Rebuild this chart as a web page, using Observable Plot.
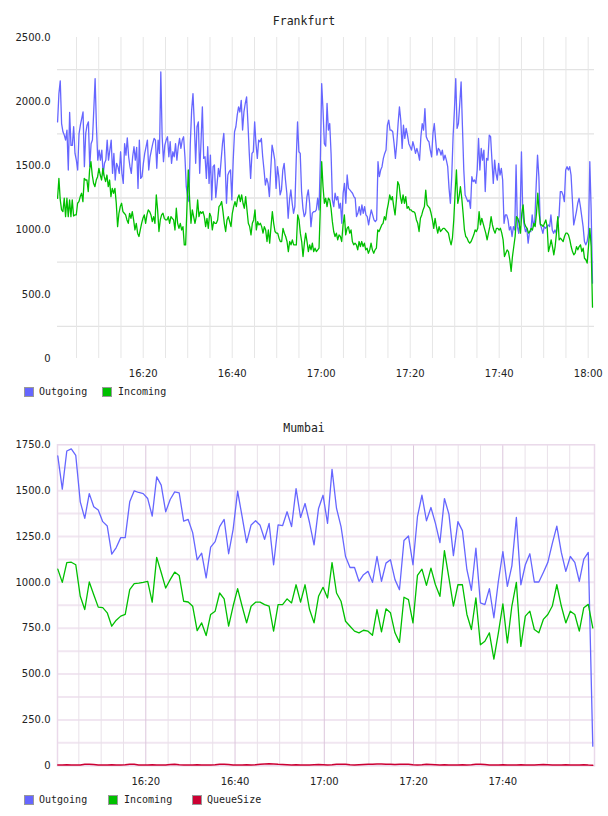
<!DOCTYPE html>
<html>
<head>
<meta charset="utf-8">
<script src="https://cdn.jsdelivr.net/npm/d3@7"></script>
<script src="https://cdn.jsdelivr.net/npm/@observablehq/plot@0.6"></script>
<style>
  body { margin: 0; background: #fff; }
  #page { position: relative; width: 608px; height: 816px; overflow: hidden; background: #fff; }
  .title { position: absolute; left: 0; width: 608px; text-align: center; font: 11.5px "DejaVu Sans Mono", monospace; color: #222; line-height: 14px; }
  .legend { position: absolute; left: 0; width: 608px; height: 12px; font: 10px "DejaVu Sans Mono", monospace; color: #222; }
  .sw { position: absolute; top: 0; width: 8px; height: 8px; border: 1px solid #999; }
  .lbl { position: absolute; top: -1px; line-height: 12px; white-space: nowrap; }
  .panel { position: absolute; left: 0; }
</style>
</head>
<body>
<div id="page"></div>
<script>
// ---- Frankfurt: traffic sampled about every 18 s ----
const frankfurtStart = "16:00:45";
const frankfurtEnd = "18:00:58";
const frankfurtDomain = ["16:00:44", "18:01:25"];

const frankfurtOutgoing = [
  1843, 2063, 2162, 1830, 1766, 1740, 1701, 1779, 1468, 1916,
  1660, 1660, 1805, 1597, 1545, 1468, 1750, 1817, 1869, 1920,
  1494, 1753, 1817, 1843, 1494, 1673, 1701, 1934, 2180, 1805,
  1545, 1623, 1545, 1623, 1429, 1520, 1545, 1701, 1545, 1623,
  1701, 1442, 1597, 1390, 1520, 1494, 1442, 1610, 1442, 1364,
  1673, 1584, 1719, 1571, 1494, 1442, 1571, 1649, 1545, 1644,
  1325, 1701, 1403, 1416, 1520, 1597, 1649, 1701, 1468, 1571,
  1623, 1673, 1714, 1701, 1481, 1701, 1597, 2232, 1727, 1533,
  1662, 1701, 1727, 1571, 1688, 1520, 1610, 1571, 1673, 1545,
  1649, 1714, 1636, 1701, 1727, 1571, 1338, 1261, 1222, 1673,
  1934, 2063, 1830, 1520,
  1805, 1843, 1442, 1688, 1960, 1558, 1571, 1403, 1649, 1364,
  1584, 1235, 1494, 1507, 1255, 1364, 1481, 1416, 1545, 1673,
  1753, 1520, 1209, 1429, 1455, 1468, 1235, 1545, 1766, 1805,
  1895, 1960, 1920, 2011, 1779, 1920, 1986, 2037, 1830, 1597,
  1403, 1597, 1610, 1843, 1673, 1558, 1701, 1688, 1714, 1571,
  1468, 1351, 1403, 1364, 1261, 1468, 1662, 1610, 1545, 1325,
  1494, 1416, 1274, 1313, 1468, 1520, 1390, 1287, 1092, 1235,
  1313, 1209, 1131, 1183, 1545, 1843, 1610, 1597, 1300, 1170,
  1105, 1131, 1261, 1313, 1209, 1027, 1131, 1144, 1144, 1157,
  1248, 1157, 1545, 2141, 1934, 1673,
  1654, 1986, 1779, 1830, 1597, 1235, 1183, 1287, 1235, 1261,
  1170, 1209, 1053, 1287, 1364, 1209, 1429, 1325, 1313, 1300,
  1287, 1261, 1248, 1105, 1131, 1183, 1118, 1196, 1131, 1183,
  1118, 1105, 1040, 1105, 1157, 1118, 1079, 1066, 1079, 1533,
  1416, 1468, 1494, 1558, 1597, 1623, 1817, 1856, 1779, 1779,
  1766, 1673, 1558, 1673, 1830, 1960, 1856, 1636, 1817, 1714,
  1792, 1740, 1673, 1649, 1623, 1688, 1649, 1597, 1636, 1597,
  1545, 1727, 1830, 1779, 1946, 1727, 1701, 1688, 1623, 1571,
  1753, 1830, 1701, 1584, 1636, 1623, 1584, 1623, 1545, 1584,
  1545, 1494, 1325, 1209, 1416, 1727, 1934, 2180,
  1792, 1830, 1986, 2154, 1805, 1468, 1274, 1248, 1222, 1235,
  1170, 1416, 1377, 1390, 1364, 1468, 1714, 1468, 1636, 1545,
  1623, 1300, 1558, 1545, 1740, 1727, 1545, 1364, 1545, 1442,
  1390, 1520, 1429, 1481, 1390, 1053, 1118, 1118, 1079, 1001,
  1027, 950, 1027, 1001, 1507, 1027, 975, 1105, 1610, 1131,
  1040, 988, 1014, 898, 988, 988, 1118, 1027, 1079, 1351,
  1584, 1416, 1053, 1014, 975, 1027, 1014, 1027, 1040, 1027,
  1118, 1001, 975, 1001, 975, 1079, 1105, 1300, 1300, 1274,
  1222, 1468, 1494, 1468, 1494, 1429, 1235, 1040, 1092, 1144,
  1209, 1248, 1183, 1105, 1027, 911, 885, 911, 975, 1533,
  1157, 587
];

const frankfurtIncoming = [
  1248, 1403, 1235, 1157, 1144, 1248, 1105, 1248, 1105, 1235,
  1105, 1235, 1110, 1118, 1118, 1209, 1222, 1261, 1287, 1222,
  1403, 1390, 1390, 1300, 1468, 1533, 1429, 1364, 1338, 1390,
  1416, 1481, 1429, 1390, 1481, 1416, 1377, 1429, 1338, 1390,
  1261, 1325, 1287, 1325, 1209, 1027, 1131, 1183, 1209, 1144,
  1131, 1118, 1079, 1053, 1131, 1092, 1144, 1079, 1001, 1053,
  976, 950, 1001, 1053, 1092, 1118, 1053, 1118, 1157, 1144,
  1118, 1066, 1105, 1053, 1274, 1157, 989, 1079, 1118, 1131,
  1092, 1079, 1079, 1105, 1053, 1105, 1092, 1079, 1001, 1170,
  1053, 1014, 1053, 1001, 1027, 885, 885, 1183, 1468, 1235,
  1053,
  1157, 1105, 1053, 1105, 1235, 1105, 1144, 1131, 1144, 1105,
  1027, 1092, 1014, 1131, 1105, 1001, 1066, 1053, 1053, 1079,
  1183, 1196, 1222, 1144, 1053, 989, 1079, 1105, 1066, 1027,
  1131, 1183, 1222, 1183, 1248, 1274, 1222, 1274, 1209, 1170,
  1261, 1157, 1053, 1027, 963, 1053, 1079, 1157, 1001, 1066,
  1040, 1053, 1027, 976, 1027, 1001, 911, 1001, 898, 1027,
  1144, 1053, 989, 976, 976, 937, 911, 911, 1014, 976,
  950, 911, 833, 911, 885, 924, 885, 885, 885, 1118,
  1079, 976, 911, 794, 898, 976, 911, 833, 885, 846,
  898, 833, 859, 833, 846, 859, 1183, 1533, 1338, 1209,
  1248, 1183, 1248, 1235, 1170, 1066, 989, 950, 976, 924,
  963, 950, 911, 1040, 1118, 963, 1014, 1027, 976, 1001,
  911, 885, 898, 885, 846, 911, 872, 911, 872, 898,
  846, 859, 820, 846, 898, 846, 820, 846, 859, 1001,
  989, 1014, 1040, 1053, 1105, 1079, 1157, 1209, 1274, 1235,
  1261, 1183, 1118, 1235, 1377, 1351, 1261, 1209, 1274, 1209,
  1261, 1170, 1183, 1157, 1157, 1144, 1144, 1131, 1079, 1053,
  989, 1092, 1118, 1157, 1183, 1312, 1196, 1183, 1170, 1131,
  1079, 1014, 1092, 1027, 976, 1027, 989, 1001, 1014, 1014,
  1001, 989, 976, 924, 885, 937, 1079, 1287, 1468,
  1209, 1261, 1338, 1248, 1131, 1001, 950, 937, 911, 898,
  911, 937, 963, 1001, 989, 1014, 1144, 1040, 1092, 1053,
  1014, 976, 924, 976, 1027, 1105, 1040, 1001, 976, 1014,
  1014, 1001, 1014, 976, 924, 794, 820, 846, 833, 769,
  678, 794, 872, 950, 1105, 1092, 1053, 976, 1131, 1196,
  1053, 1027, 1014, 976, 989, 1014, 1001, 1053, 1027, 1131,
  1287, 1131, 1040, 1040, 1027, 1053, 1079, 1027, 833, 872,
  924, 872, 807, 872, 976, 1105, 924, 937, 924, 911,
  950, 976, 976, 963, 924, 872, 833, 807, 820, 872,
  846, 872, 885, 833, 859, 781, 769, 743, 872, 1014,
  872, 400
];

const frankfurtYTicks = [0, 500, 1000, 1500, 2000, 2500];
const frankfurtYGrid = [250, 750, 1250, 1750, 2250];
const frankfurtXTicks = ["16:20", "16:40", "17:00", "17:20", "17:40", "18:00"];

// ---- Mumbai: one sample per minute ----
const mumbaiStart = "16:00:17";
const mumbaiEnd = "18:00:10";
const mumbaiDomain = ["16:00:13", "18:00:33"];

const mumbaiOutgoing = [
  1689, 1508, 1716, 1728, 1692, 1439, 1349, 1484, 1412, 1394,
  1331, 1307, 1154, 1190, 1244, 1244, 1439, 1499, 1490, 1484,
  1457, 1361, 1575, 1530, 1385, 1452, 1493, 1488, 1334, 1343,
  1271, 1123, 1159, 1024, 1192, 1222, 1304, 1343, 1156, 1289,
  1497, 1358, 1217, 1313, 1336, 1311, 1235, 1322, 1096, 1313,
  1309, 1385, 1304, 1511, 1354, 1430, 1325, 1204, 1403, 1475,
  1322, 1616, 1403, 1304, 1141, 1081, 1081, 1006, 1042, 1060,
  1000, 1141, 1006, 1105, 1123, 1015, 960, 1228, 1253, 1096,
  1358, 1475, 1336, 1408, 1322, 1217, 1457, 1372, 1146, 1331,
  1282, 1069, 957, 1186, 888, 879, 966, 807, 1006, 1168,
  978, 1090, 1354, 987, 1096, 1156, 1002, 1002, 1054, 1109,
  1213, 1307, 1163, 1060, 1141, 1109, 1006, 1127, 1163, 107
];

const mumbaiIncoming = [
  1072, 1000, 1108, 1110, 1096, 924, 852, 1002, 933, 865,
  862, 834, 761, 794, 816, 825, 960, 993, 996, 1000,
  1005, 892, 1136, 1054, 969, 1015, 1056, 1038, 897, 893,
  870, 737, 779, 710, 825, 843, 942, 910, 761, 871,
  966, 870, 779, 870, 892, 892, 879, 870, 734, 879,
  879, 910, 888, 987, 892, 987, 852, 779, 924, 973,
  915, 1108, 942, 897, 788, 761, 734, 725, 739, 734,
  712, 852, 730, 856, 834, 725, 673, 919, 906, 779,
  1038, 1072, 984, 1078, 987, 924, 1173, 1024, 870, 987,
  987, 825, 743, 915, 660, 679, 725, 582, 725, 883,
  670, 871, 1000, 651, 816, 843, 743, 725, 798, 825,
  871, 987, 871, 779, 843, 825, 734, 862, 880, 752
];

const mumbaiQueueSize = [
  5, 4, 6, 5, 4, 5, 8, 9, 7, 5,
  4, 5, 6, 5, 4, 6, 9, 8, 5, 4,
  5, 6, 5, 4, 5, 7, 9, 6, 5, 4,
  5, 6, 5, 4, 5, 6, 8, 9, 7, 5,
  4, 5, 6, 5, 6, 8, 10, 11, 10, 8,
  7, 6, 5, 6, 5, 4, 5, 6, 7, 6,
  5, 6, 8, 9, 8, 6, 5, 6, 7, 8,
  9, 10, 10, 9, 8, 7, 8, 9, 8, 6,
  5, 6, 8, 7, 6, 5, 6, 5, 4, 5,
  6, 5, 6, 8, 9, 7, 5, 4, 5, 6,
  5, 4, 5, 6, 5, 4, 5, 6, 7, 6,
  5, 4, 5, 6, 5, 4, 5, 6, 4, 3
];

const mumbaiYTicks = [0, 250, 500, 750, 1000, 1250, 1500, 1750];
const mumbaiYGrid = [125, 250, 375, 500, 625, 750, 875, 1000, 1125, 1250, 1375, 1500, 1625];
const mumbaiXTicks = ["16:20", "16:40", "17:00", "17:20", "17:40"];

const seriesColors = { Outgoing: "#6666ff", Incoming: "#00c000", QueueSize: "#cc0033" };

// ---- helpers ----
function at(hms) {
  const [h, m, s] = hms.split(":").map(Number);
  return new Date(2020, 0, 1, h, m, s || 0);
}
function spread(values, start, end) {
  const a = at(start).getTime(), b = at(end).getTime(), n = values.length;
  return values.map((v, i) => ({ time: new Date(a + (b - a) * i / (n - 1)), value: v }));
}
function fiveMinuteLines(domain) {
  return d3.timeMinute.every(5).range(at(domain[0]), at(domain[1]));
}
const fmtY = d => d === 0 ? "0" : d.toFixed(1);
const fmtX = d3.timeFormat("%H:%M");

const page = document.getElementById("page");

function addTitle(text, top) {
  const el = document.createElement("div");
  el.className = "title";
  el.style.top = top + "px";
  el.textContent = text;
  page.appendChild(el);
}
function addLegend(items, top) {
  const el = document.createElement("div");
  el.className = "legend";
  el.style.top = top + "px";
  for (const [name, sx, tx] of items) {
    const sw = document.createElement("div");
    sw.className = "sw";
    sw.style.left = sx + "px";
    sw.style.background = seriesColors[name];
    el.appendChild(sw);
    const lb = document.createElement("div");
    lb.className = "lbl";
    lb.style.left = tx + "px";
    lb.textContent = name;
    el.appendChild(lb);
  }
  page.appendChild(el);
}
function addPanel(plot, top) {
  plot.classList.add("panel");
  plot.style.top = top + "px";
  page.appendChild(plot);
}

const baseStyle = { fontFamily: "DejaVu Sans, sans-serif", fontSize: "10px", color: "#222", background: "transparent", overflow: "visible" };

// ---- Frankfurt panel ----
addTitle("Frankfurt", 13.5);
const fOut = spread(frankfurtOutgoing, frankfurtStart, frankfurtEnd);
const fIn = spread(frankfurtIncoming, frankfurtStart, frankfurtEnd);
const fVertical = fiveMinuteLines(frankfurtDomain);

addPanel(Plot.plot({
  width: 608,
  height: 382,
  marginLeft: 57,
  marginRight: 14,
  marginTop: 37,
  marginBottom: 24,
  style: baseStyle,
  x: { type: "time", domain: frankfurtDomain.map(at) },
  y: { domain: [0, 2500] },
  marks: [
    Plot.gridY(frankfurtYGrid, { stroke: "#e3e3e3", strokeOpacity: 1, strokeWidth: 1.3 }),
    Plot.gridX(fVertical, { stroke: "#e6e6e6", strokeOpacity: 1, strokeWidth: 1 }),
    Plot.axisY(frankfurtYTicks, { tickSize: 0, tickPadding: 7, tickFormat: fmtY, label: null }),
    Plot.axisX(frankfurtXTicks.map(at), { tickSize: 0, tickPadding: 11, tickFormat: fmtX, label: null }),
    Plot.line(fOut, { x: "time", y: "value", stroke: seriesColors.Outgoing, strokeWidth: 1.3 }),
    Plot.line(fIn, { x: "time", y: "value", stroke: seriesColors.Incoming, strokeWidth: 1.3 })
  ]
}), 0);

addLegend([["Outgoing", 24, 39], ["Incoming", 102, 118]], 387);

// ---- Mumbai panel ----
addTitle("Mumbai", 421.3);
const mOut = spread(mumbaiOutgoing, mumbaiStart, mumbaiEnd);
const mIn = spread(mumbaiIncoming, mumbaiStart, mumbaiEnd);
const mQueue = spread(mumbaiQueueSize, mumbaiStart, mumbaiEnd);
const mMajor = mumbaiXTicks.map(at);
const mMinor = fiveMinuteLines(mumbaiDomain).filter(d => d.getMinutes() % 20 !== 0 && d < at("18:00"));

addPanel(Plot.plot({
  width: 608,
  height: 392,
  marginLeft: 57,
  marginRight: 14,
  marginTop: 44.3,
  marginBottom: 26.7,
  style: baseStyle,
  x: { type: "time", domain: mumbaiDomain.map(at) },
  y: { domain: [0, 1750] },
  marks: [
    Plot.gridY(mumbaiYGrid, { stroke: "#f1e6f1", strokeOpacity: 1, strokeWidth: 2 }),
    Plot.gridX(mMinor, { stroke: "#e9e1e9", strokeOpacity: 1, strokeWidth: 1 }),
    Plot.gridX(mMajor, { stroke: "#dcc6dc", strokeOpacity: 1, strokeWidth: 1 }),
    Plot.frame({ stroke: "#ead9ea", strokeWidth: 1.5 }),
    Plot.axisY(mumbaiYTicks, { tickSize: 0, tickPadding: 7, tickFormat: fmtY, label: null }),
    Plot.axisX(mMajor, { tickSize: 0, tickPadding: 12.5, tickFormat: fmtX, label: null }),
    Plot.line(mOut, { x: "time", y: "value", stroke: seriesColors.Outgoing, strokeWidth: 1.3 }),
    Plot.line(mIn, { x: "time", y: "value", stroke: seriesColors.Incoming, strokeWidth: 1.3 }),
    Plot.line(mQueue, { x: "time", y: "value", stroke: seriesColors.QueueSize, strokeWidth: 1.5 })
  ]
}), 400);

addLegend([["Outgoing", 24, 39], ["Incoming", 108, 124], ["QueueSize", 192, 207]], 795);
</script>
</body>
</html>
